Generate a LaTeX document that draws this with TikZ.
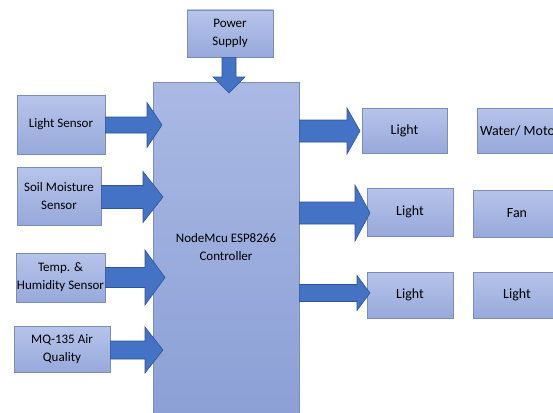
\documentclass[tikz,border=0pt]{standalone}
\usepackage{fontspec}
\setmainfont{Carlito}
\usetikzlibrary{calc}
\definecolor{boxtop}{HTML}{B7C4EA}
\definecolor{boxbot}{HTML}{97A9DB}
\definecolor{ctrltop}{HTML}{AAB9E4}
\definecolor{ctrlbot}{HTML}{8CA0D6}
\definecolor{boxedge}{HTML}{7D8DB5}
\definecolor{arrfill}{HTML}{4472C4}
\definecolor{arredge}{HTML}{2F5597}
\tikzset{
  blockbox/.style={draw=boxedge, line width=0.8pt, top color=boxtop, bottom color=boxbot,
    inner sep=0pt, align=center, font=\fontsize{13}{18}\selectfont, text=black},
  ctrlbox/.style={blockbox, top color=ctrltop, bottom color=ctrlbot},
  blockarrow/.style={fill=arrfill, draw=arredge, line width=0.6pt, line join=miter}
}
% right-pointing block arrow: #1 source anchor (x), #2 tip, #3 shaft half, #4 head half, #5 head length
\newcommand\blkarrowR[5]{%
  \filldraw[blockarrow] let \p1=(#1), \p2=(#2) in
   (\x1,\y2+#3) -- (\x2-#5,\y2+#3) -- (\x2-#5,\y2+#4) -- (\x2,\y2) --
   (\x2-#5,\y2-#4) -- (\x2-#5,\y2-#3) -- (\x1,\y2-#3) -- cycle;}
% down-pointing block arrow
\newcommand\blkarrowD[5]{%
  \filldraw[blockarrow] let \p1=(#1), \p2=(#2) in
   (\x2-#3,\y1) -- (\x2-#3,\y2+#5) -- (\x2-#4,\y2+#5) -- (\x2,\y2) --
   (\x2+#4,\y2+#5) -- (\x2+#3,\y2+#5) -- (\x2+#3,\y1) -- cycle;}
\begin{document}
\begin{tikzpicture}[x=1pt,y=-1pt]
\useasboundingbox (0,0) rectangle (553,412);
\clip (0,0) rectangle (553,412);
\fill[white] (0,0) rectangle (553,412);
% nodes
\node[blockbox, minimum width=86pt, minimum height=47pt] (pwr) at (230,33.5) {Power\\Supply};
\node[ctrlbox, minimum width=146pt, minimum height=331pt] (ctrl) at (226,247.5) {NodeMcu ESP8266\\Controller};
\node[blockbox, minimum width=88pt, minimum height=59pt] (ls) at (61,124.5) {Light Sensor};
\node[blockbox, minimum width=84pt, minimum height=58pt] (sm) at (59,196) {Soil Moisture\\Sensor};
\node[blockbox, minimum width=89pt, minimum height=49pt] (th) at (60.5,277.5) {Temp. \&\\Humidity Sensor};
\node[blockbox, minimum width=96pt, minimum height=46pt] (mq) at (62,349) {MQ-135 Air\\Quality};
\node[blockbox, minimum width=85pt, minimum height=45pt, font=\fontsize{14}{18}\selectfont] (l1) at (404.5,130.5) {Light};
\node[blockbox, minimum width=86pt, minimum height=48pt, font=\fontsize{14}{18}\selectfont] (l2) at (410,212) {Light};
\node[blockbox, minimum width=86pt, minimum height=46pt, font=\fontsize{14}{18}\selectfont] (l3) at (410,295) {Light};
\node[blockbox, minimum width=86pt, minimum height=45pt, font=\fontsize{14}{18}\selectfont] (wm) at (520,130.5) {Water/ Motor};
\node[blockbox, minimum width=88pt, minimum height=47pt, font=\fontsize{14}{18}\selectfont] (fan) at (517,213.5) {Fan};
\node[blockbox, minimum width=88pt, minimum height=46pt, font=\fontsize{14}{18}\selectfont] (lt) at (517,295) {Light};
% arrow tips
\coordinate (tpwr) at (229,93);
\coordinate (tls) at (162,125);
\coordinate (tsm) at (163,197);
\coordinate (tth) at (165,277.5);
\coordinate (tmq) at (163,350);
\coordinate (tl1) at (360,131);
\coordinate (tl2) at (370,213);
\coordinate (tl3) at (370,293);
% arrows
\blkarrowD{pwr.south}{tpwr}{7pt}{16pt}{16pt}
\blkarrowR{ls.east}{tls}{8pt}{22.5pt}{15pt}
\blkarrowR{sm.east}{tsm}{11.5pt}{25.5pt}{20pt}
\blkarrowR{th.east}{tth}{10pt}{27.5pt}{20pt}
\blkarrowR{mq.east}{tmq}{9pt}{23pt}{18pt}
\blkarrowR{ctrl.east}{tl1}{11pt}{23pt}{13pt}
\blkarrowR{ctrl.east}{tl2}{11pt}{28pt}{15pt}
\blkarrowR{ctrl.east}{tl3}{8.5pt}{17.5pt}{13pt}
\end{tikzpicture}
\end{document}
